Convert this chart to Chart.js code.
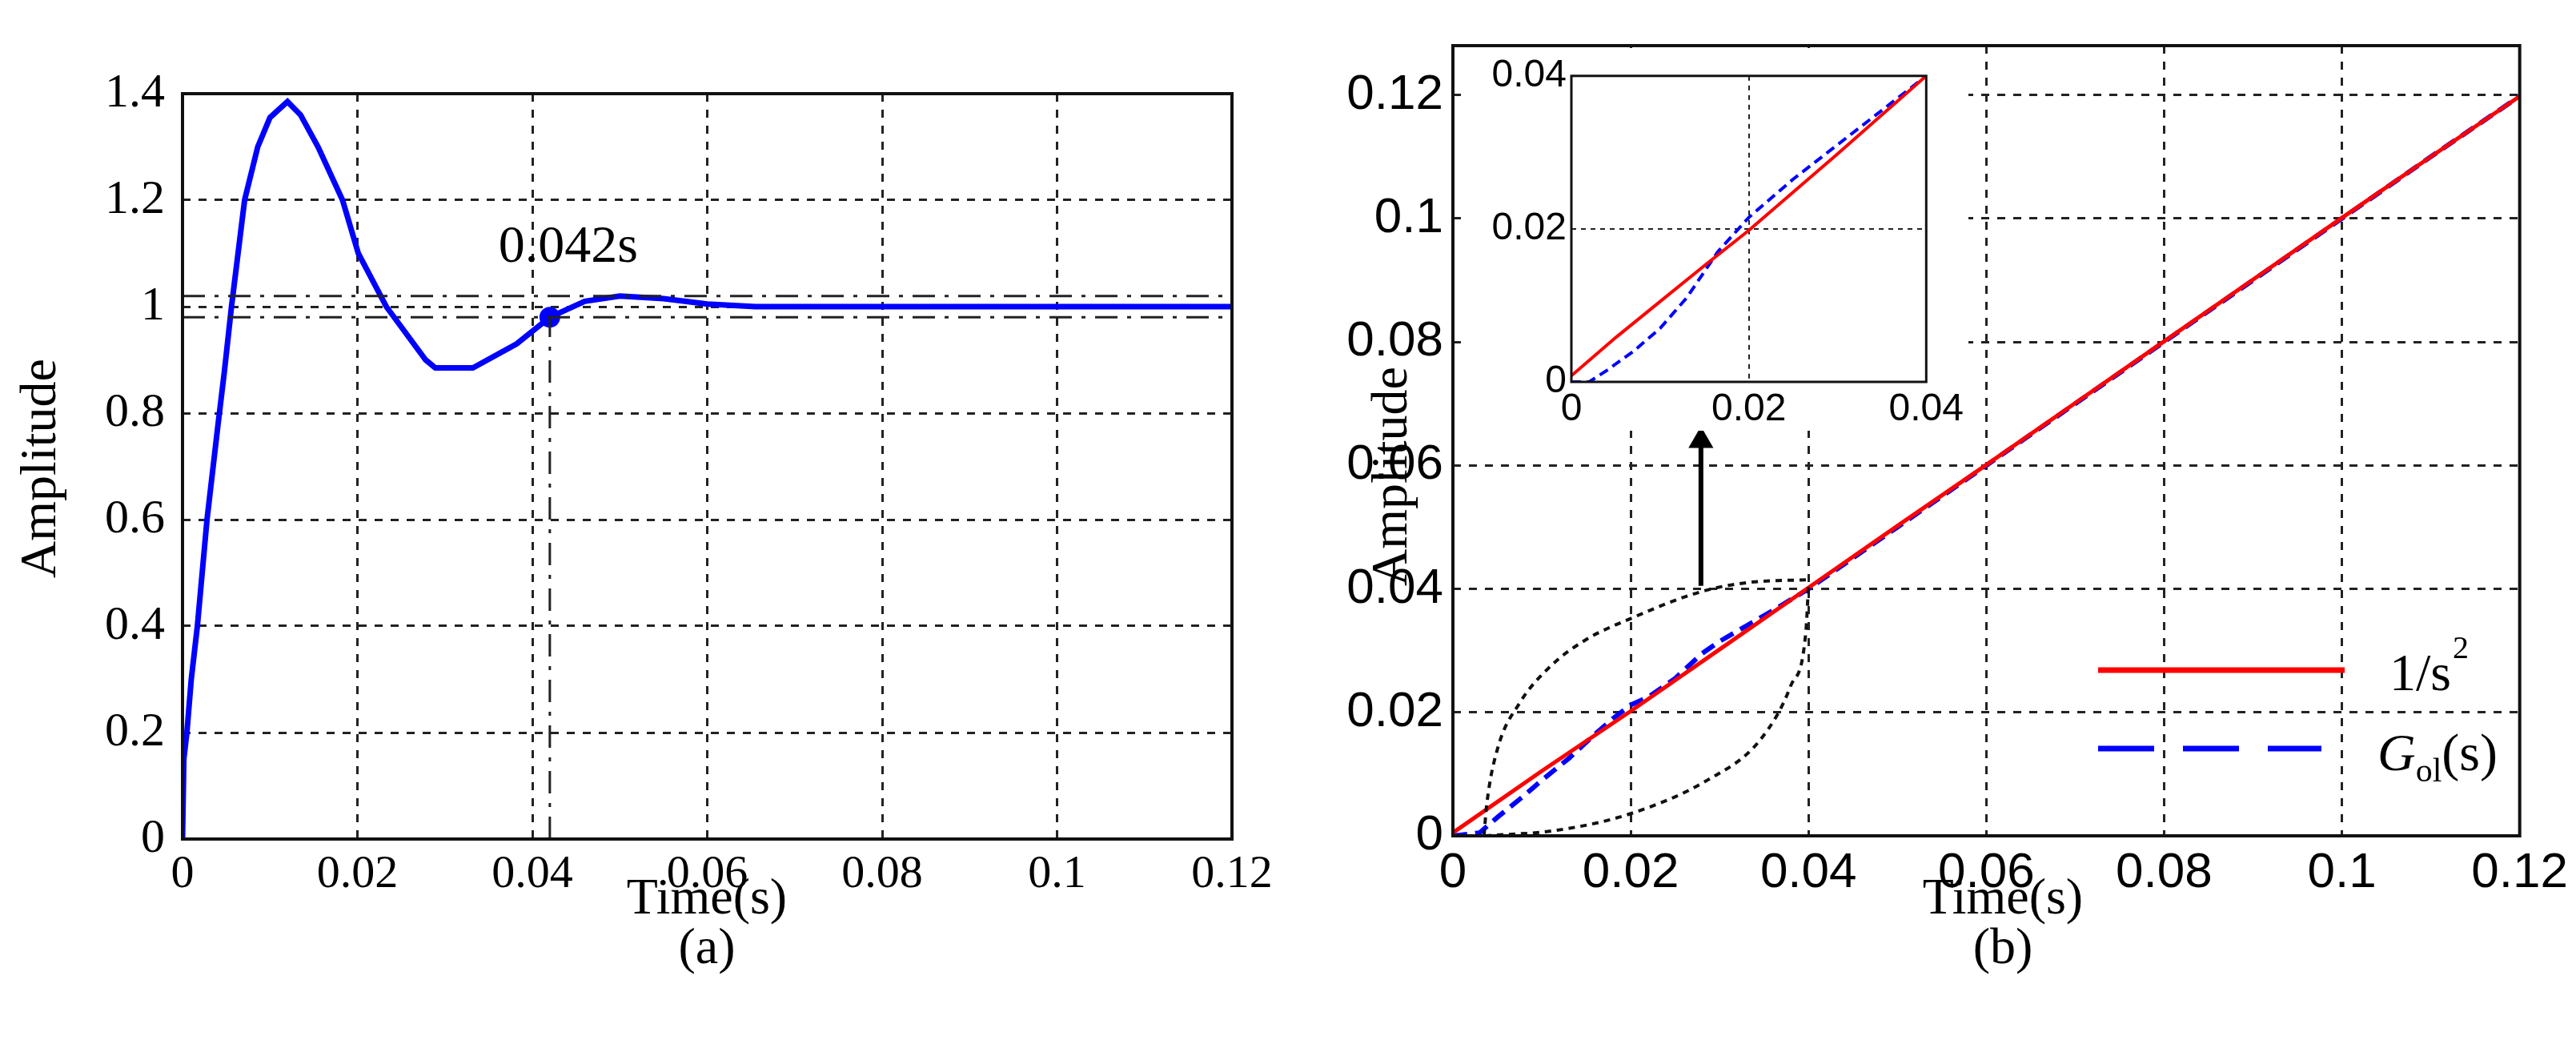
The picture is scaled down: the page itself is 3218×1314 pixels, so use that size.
<!DOCTYPE html>
<html>
<head>
<meta charset="utf-8">
<script src="https://cdn.jsdelivr.net/npm/chart.js@4"></script>
<style>
  html, body { margin: 0; padding: 0; background: #fff; }
  body { width: 3218px; height: 1314px; position: relative; overflow: hidden; }
  canvas { position: absolute; }
  #chartA { left: 0; top: 0; }
  #chartB { left: 1600px; top: 0; }
  #chartI { left: 1830px; top: 60px; background: #fff; }
</style>
</head>
<body>
<canvas id="chartA" width="1600" height="1314"></canvas>
<canvas id="chartB" width="1618" height="1314"></canvas>
<canvas id="chartI" width="629" height="478"></canvas>
<script>
// (a) step response
const timeA = [0, 0.00015, 0.0005, 0.001, 0.0017, 0.0028, 0.004, 0.0048, 0.0056, 0.0071, 0.0086, 0.010, 0.012, 0.0135, 0.0155, 0.0183, 0.0201, 0.0233, 0.0278, 0.0289, 0.0332, 0.0382, 0.042, 0.046, 0.050, 0.055, 0.060, 0.0655, 0.08, 0.10, 0.12];
const ampA  = [0, 0.15, 0.2, 0.3, 0.4, 0.6, 0.77, 0.88, 1.0, 1.2, 1.3, 1.355, 1.385, 1.36, 1.3, 1.2, 1.1, 1.0, 0.9, 0.885, 0.885, 0.93, 0.98, 1.01, 1.02, 1.015, 1.005, 1.0, 1.0, 1.0, 1.0];
const bandA = [0.98, 1.02];
const settleT = 0.042;
const settleY = 0.98;
const ticksAx = [0, 0.02, 0.04, 0.06, 0.08, 0.1, 0.12];
const ticksAy = [0, 0.2, 0.4, 0.6, 0.8, 1, 1.2, 1.4];

// (b) ramp response
const timeRef = [0, 0.01, 0.02, 0.03, 0.04, 0.05, 0.06, 0.07, 0.08, 0.09, 0.10, 0.11, 0.12];
const ampRef  = [0.0005, 0.0105, 0.0202, 0.0302, 0.0402, 0.0502, 0.0601, 0.0701, 0.0801, 0.0901, 0.1001, 0.11, 0.1198];
const timeGol = [0, 0.003, 0.005, 0.008, 0.010, 0.013, 0.016, 0.018, 0.020, 0.022, 0.025, 0.028, 0.030, 0.033, 0.036, 0.040, 0.05, 0.06, 0.07, 0.08, 0.09, 0.10, 0.11, 0.12];
const ampGol  = [0, 0.0005, 0.003, 0.0065, 0.009, 0.0125, 0.0165, 0.019, 0.0212, 0.0225, 0.0255, 0.0295, 0.0315, 0.034, 0.0365, 0.040, 0.050, 0.060, 0.070, 0.080, 0.090, 0.100, 0.110, 0.1198];
const upperArcX = [0.0035, 0.0038, 0.0050, 0.0075, 0.0110, 0.0150, 0.020, 0.0278, 0.033, 0.040];
const upperArcY = [0, 0.005, 0.0140, 0.0215, 0.0275, 0.0318, 0.0352, 0.0395, 0.041, 0.0415];
const lowerArcX = [0.0036, 0.0117, 0.020, 0.0286, 0.0346, 0.038, 0.0397, 0.040];
const lowerArcY = [0, 0.0009, 0.0036, 0.009, 0.0156, 0.0243, 0.033, 0.0406];
const arrowX = 0.0279;
const arrowY = [0.0405, 0.064];
const ticksB = [0, 0.02, 0.04, 0.06, 0.08, 0.1, 0.12];

// (b) inset zoom
const timeRefI = [0, 0.005, 0.010, 0.015, 0.020, 0.030, 0.040];
const ampRefI  = [0.0008, 0.0058, 0.0105, 0.0152, 0.0198, 0.0298, 0.040];
const timeGolI = [0, 0.002, 0.004, 0.007, 0.010, 0.013, 0.0165, 0.020, 0.025, 0.030, 0.035, 0.040];
const ampGolI  = [0, 0, 0.0015, 0.004, 0.007, 0.011, 0.017, 0.0215, 0.0265, 0.031, 0.0355, 0.040];
const ticksI = [0, 0.02, 0.04];

const serif = '"Liberation Serif", "Times New Roman", serif';
const sans = '"Liberation Sans", Arial, sans-serif';

function pts(xs, ys) { return xs.map((x, i) => ({ x: x, y: ys[i] })); }
function fmt(v) { return String(+v.toFixed(3)); }

function axis(min, max, ticks, font, size, pad, fitW, fitH, gw, dash) {
    return {
        type: 'linear', min: min, max: max,
        afterBuildTicks: s => { s.ticks = ticks.map(v => ({ value: v })); },
        afterFit: s => { if (fitW) s.width = fitW; if (fitH) s.height = fitH; },
        ticks: { color: '#000', font: { family: font, size: size }, padding: pad, callback: v => fmt(v), maxRotation: 0, autoSkip: false },
        grid: { color: '#222', lineWidth: gw || 3, drawTicks: false },
        border: { display: false, dash: dash || [10, 10] }
    };
}

// frame, titles and extras drawn after datasets
function framePlugin(lw, texts) {
    return {
        id: 'frame',
        afterDatasetsDraw(chart) {
            const { ctx, chartArea: a } = chart;
            ctx.save();
            ctx.strokeStyle = '#111';
            ctx.lineWidth = lw;
            ctx.setLineDash([]);
            ctx.strokeRect(a.left, a.top, a.right - a.left, a.bottom - a.top);
            ctx.fillStyle = '#000';
            texts.forEach(t => {
                ctx.save();
                ctx.font = t.font;
                ctx.textAlign = 'center';
                ctx.textBaseline = 'middle';
                ctx.translate(t.x, t.y);
                if (t.rot) ctx.rotate(t.rot);
                ctx.fillText(t.text, 0, 0);
                ctx.restore();
            });
            if (chart.$extra) chart.$extra(ctx, chart);
            ctx.restore();
        }
    };
}

const common = { responsive: false, animation: false, devicePixelRatio: 1, events: [],
    plugins: { legend: { display: false }, tooltip: { enabled: false } } };

// ---------- chart (a) ----------
const chA = new Chart(document.getElementById('chartA'), {
    type: 'line',
    data: { datasets: [
        { data: pts([0, 0.12], [bandA[1], bandA[1]]), borderColor: '#222', borderWidth: 3, borderDash: [28, 12, 5, 12], pointRadius: 0 },
        { data: pts([0, 0.12], [bandA[0], bandA[0]]), borderColor: '#222', borderWidth: 3, borderDash: [28, 12, 5, 12], pointRadius: 0 },
        { data: pts([settleT, settleT], [0, settleY]), borderColor: '#222', borderWidth: 3, borderDash: [28, 12, 5, 12], pointRadius: 0 },
        { data: pts(timeA, ampA), borderColor: '#0000ff', borderWidth: 7, pointRadius: 0, tension: 0 },
        { data: pts([settleT], [settleY]), showLine: false, pointRadius: 13, pointBackgroundColor: '#0000ff', pointBorderWidth: 0 }
    ] },
    options: Object.assign({}, common, {
        layout: { autoPadding: false, padding: { top: 117, right: 61, left: 0, bottom: 0 } },
        scales: {
            x: axis(0, 0.12, ticksAx, serif, 58, 10, null, 266),
            y: axis(0, 1.4, ticksAy, serif, 60, 22, 228, null)
        }
    }),
    plugins: [framePlugin(4, [
        { text: 'Time(s)', x: 883, y: 1124, font: '64px ' + serif },
        { text: '(a)', x: 883, y: 1186, font: '64px ' + serif },
        { text: 'Amplitude', x: 52, y: 585, font: '64px ' + serif, rot: -Math.PI / 2 }
    ])]
});
chA.$extra = function (ctx, chart) {
    ctx.font = '66px ' + serif;
    ctx.textAlign = 'center';
    ctx.textBaseline = 'middle';
    ctx.fillText('0.042s', chart.scales.x.getPixelForValue(0.0441), chart.scales.y.getPixelForValue(1.11));
};
chA.update();

// ---------- chart (b) ----------
const chB = new Chart(document.getElementById('chartB'), {
    type: 'line',
    data: { datasets: [
        { data: pts(upperArcX, upperArcY), borderColor: '#111', borderWidth: 4, borderDash: [8, 7], pointRadius: 0, cubicInterpolationMode: 'monotone' },
        { data: pts(lowerArcX, lowerArcY), borderColor: '#111', borderWidth: 4, borderDash: [8, 7], pointRadius: 0, cubicInterpolationMode: 'monotone' },
        { data: pts([arrowX, arrowX], arrowY), borderColor: '#000', borderWidth: 6, pointRadius: [0, 18], pointStyle: 'triangle', pointBackgroundColor: '#000', pointBorderWidth: 0 },
        { data: pts(timeRef, ampRef), borderColor: '#ff0000', borderWidth: 5, pointRadius: 0 },
        { data: pts(timeGol, ampGol), borderColor: '#0000ff', borderWidth: 6, borderDash: [18, 10], pointRadius: 0 }
    ] },
    options: Object.assign({}, common, {
        layout: { autoPadding: false, padding: { top: 57, right: 3, left: 0, bottom: 0 } },
        scales: {
            x: axis(0, 0.12, ticksB, sans, 62, 10, null, 270),
            y: axis(0, 0.128, ticksB, sans, 62, 12, 215, null)
        }
    }),
    plugins: [framePlugin(4, [
        { text: 'Time(s)', x: 902, y: 1124, font: '64px ' + serif },
        { text: '(b)', x: 902, y: 1186, font: '64px ' + serif },
        { text: 'Amplitude', x: 140, y: 595, font: '64px ' + serif, rot: -Math.PI / 2 }
    ])]
});
chB.$extra = function (ctx) {
    // legend
    ctx.lineWidth = 7;
    ctx.strokeStyle = '#ff0000';
    ctx.beginPath(); ctx.moveTo(1021, 837); ctx.lineTo(1329, 837); ctx.stroke();
    ctx.strokeStyle = '#0000ff';
    ctx.setLineDash([70, 36]);
    ctx.beginPath(); ctx.moveTo(1021, 935); ctx.lineTo(1300, 935); ctx.stroke();
    ctx.setLineDash([]);
    ctx.textAlign = 'left';
    ctx.textBaseline = 'alphabetic';
    ctx.font = '66px ' + serif;
    ctx.fillText('1/s', 1385, 862);
    const sw = ctx.measureText('1/s').width;
    ctx.font = '40px ' + serif;
    ctx.fillText('2', 1385 + sw + 2, 822);
    ctx.font = 'italic 66px ' + serif;
    ctx.fillText('G', 1370, 962);
    const gw = ctx.measureText('G').width;
    ctx.font = '42px ' + serif;
    ctx.fillText('ol', 1370 + gw, 976);
    const ow = ctx.measureText('ol').width;
    ctx.font = '66px ' + serif;
    ctx.fillText('(s)', 1370 + gw + ow, 962);
};
chB.update();

// ---------- inset ----------
new Chart(document.getElementById('chartI'), {
    type: 'line',
    data: { datasets: [
        { data: pts(timeRefI, ampRefI), borderColor: '#ff0000', borderWidth: 4, pointRadius: 0 },
        { data: pts(timeGolI, ampGolI), borderColor: '#0000ff', borderWidth: 4, borderDash: [12, 7], pointRadius: 0 }
    ] },
    options: Object.assign({}, common, {
        layout: { autoPadding: false, padding: { top: 15, right: 41, left: 0, bottom: 0 } },
        scales: {
            x: axis(0, 0.04, ticksI, sans, 48, 6, null, 61, 2, [6, 6]),
            y: axis(0, 0.04, ticksI, sans, 48, 6, 133, null, 2, [6, 6])
        }
    }),
    plugins: [framePlugin(3, [])]
});
</script>
</body>
</html>
